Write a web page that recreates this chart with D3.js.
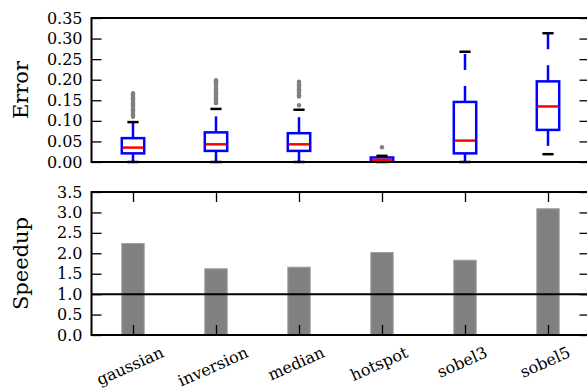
<!DOCTYPE html>
<html>
<head>
<meta charset="utf-8">
<style>
body { margin: 0; background: #fff; }
svg text { font-family: "DejaVu Serif", serif; fill: #000; }
</style>
<script src="https://cdn.jsdelivr.net/npm/d3@7"></script>
</head>
<body>
<div id="chart"></div>
<script>
// benchmarks
var names = ["gaussian", "inversion", "median", "hotspot", "sobel3", "sobel5"];

// error boxplot stats
var whiskLo = [0.000, 0.000, 0.000, 0.000, 0.000, 0.019];
var q1      = [0.021, 0.027, 0.027, 0.003, 0.021, 0.078];
var med     = [0.035, 0.043, 0.043, 0.005, 0.052, 0.135];
var q3      = [0.058, 0.072, 0.070, 0.011, 0.146, 0.196];
var whiskHi = [0.097, 0.129, 0.127, 0.015, 0.268, 0.313];

// outliers per benchmark
var fliers = [
  [0.110, 0.113, 0.116, 0.119, 0.122, 0.125, 0.128, 0.131, 0.134, 0.137, 0.140, 0.143, 0.146, 0.149, 0.152, 0.155, 0.158, 0.161, 0.164, 0.167],
  [0.143, 0.146, 0.149, 0.152, 0.155, 0.158, 0.161, 0.164, 0.167, 0.170, 0.173, 0.176, 0.179, 0.182, 0.185, 0.188, 0.191, 0.194, 0.197, 0.199],
  [0.138, 0.159, 0.162, 0.165, 0.168, 0.171, 0.174, 0.177, 0.180, 0.183, 0.186, 0.189, 0.192, 0.195],
  [0.036],
  [],
  []
];

// speedup bars
var speedup = [2.24, 1.62, 1.66, 2.02, 1.83, 3.09];

var errTicks = [0, 0.05, 0.10, 0.15, 0.20, 0.25, 0.30, 0.35];
var spdTicks = [0, 0.5, 1.0, 1.5, 2.0, 2.5, 3.0, 3.5];

var W = 587, H = 392;
var left = 91.5, right = 589.5;

var svg = d3.select("#chart").append("svg")
  .attr("width", W).attr("height", H);

var x = d3.scalePoint().domain(names).range([left, right]).padding(0.5);
var step = x.step();

var yE = d3.scaleLinear().domain([0, 0.35]).range([162, 18]);
var yS = d3.scaleLinear().domain([0, 3.5]).range([335, 192]);

function yAxes(y, ticks, fmt) {
  svg.append("g")
    .attr("transform", "translate(" + left + ",0)")
    .call(d3.axisLeft(y).tickValues(ticks).tickFormat(d3.format(fmt)).tickSizeInner(-10).tickSizeOuter(0).tickPadding(9))
    .call(function(g) {
      g.select(".domain").remove();
      g.selectAll("line").attr("stroke-width", 1.3);
      g.selectAll("text").style("font-size", "16px").attr("fill", "#000");
    });
  svg.append("g")
    .attr("transform", "translate(" + right + ",0)")
    .call(d3.axisRight(y).tickValues(ticks).tickFormat("").tickSizeInner(-10).tickSizeOuter(0))
    .call(function(g) {
      g.select(".domain").remove();
      g.selectAll("line").attr("stroke-width", 1.3);
    });
}

// ---- top: error boxplots
yAxes(yE, errTicks, ".2f");

var bw = step * 0.27, cw = bw * 0.5;
var boxes = svg.append("g").selectAll("g").data(names).enter().append("g");

boxes.each(function(n, i) {
  var g = d3.select(this), cx = x(n);
  // whiskers, dashed
  g.append("line").attr("x1", cx).attr("x2", cx)
    .attr("y1", yE(q3[i])).attr("y2", yE(whiskHi[i]))
    .attr("stroke", "#0000ff").attr("stroke-width", 2.5).attr("stroke-dasharray", "16,16");
  g.append("line").attr("x1", cx).attr("x2", cx)
    .attr("y1", yE(q1[i])).attr("y2", yE(whiskLo[i]))
    .attr("stroke", "#0000ff").attr("stroke-width", 2.5).attr("stroke-dasharray", "16,16");
  // box
  g.append("rect").attr("x", cx - bw / 2).attr("width", bw)
    .attr("y", yE(q3[i])).attr("height", yE(q1[i]) - yE(q3[i]))
    .attr("fill", "none").attr("stroke", "#0000ff").attr("stroke-width", 2.5);
  // caps
  [whiskLo[i], whiskHi[i]].forEach(function(v) {
    g.append("line").attr("x1", cx - cw / 2).attr("x2", cx + cw / 2)
      .attr("y1", yE(v)).attr("y2", yE(v))
      .attr("stroke", "#000").attr("stroke-width", 2.5);
  });
  // median
  g.append("line").attr("x1", cx - bw / 2 + 1).attr("x2", cx + bw / 2 - 1)
    .attr("y1", yE(med[i])).attr("y2", yE(med[i]))
    .attr("stroke", "#ff0000").attr("stroke-width", 2.5);
  // outliers
  g.selectAll("circle").data(fliers[i]).enter().append("circle")
    .attr("cx", cx).attr("cy", function(d) { return yE(d); })
    .attr("r", 2.2).attr("fill", "#808080");
});

svg.append("rect").attr("x", left).attr("y", 18)
  .attr("width", right - left).attr("height", 144)
  .attr("fill", "none").attr("stroke", "#000").attr("stroke-width", 2);

svg.append("text")
  .attr("transform", "translate(28,90) rotate(-90)")
  .attr("text-anchor", "middle")
  .style("font-size", "21px")
  .text("Error");

// ---- bottom: speedup bars
yAxes(yS, spdTicks, ".1f");

svg.append("g").selectAll("rect").data(speedup).enter().append("rect")
  .attr("x", function(d, i) { return x(names[i]) - bw / 2; })
  .attr("width", bw)
  .attr("y", function(d) { return yS(d); })
  .attr("height", function(d) { return yS(0) - yS(d); })
  .attr("fill", "#808080").attr("stroke", "#a0a0a0").attr("stroke-width", 1);

svg.append("line").attr("x1", left).attr("x2", right)
  .attr("y1", yS(1)).attr("y2", yS(1))
  .attr("stroke", "#000").attr("stroke-width", 2);

svg.append("g").attr("transform", "translate(0,335)")
  .call(d3.axisBottom(x).tickSizeInner(-10).tickSizeOuter(0).tickFormat(""))
  .call(function(g) { g.select(".domain").remove(); g.selectAll("line").attr("stroke-width", 1.3); });
svg.append("g").attr("transform", "translate(0,192)")
  .call(d3.axisTop(x).tickSizeInner(-10).tickSizeOuter(0).tickFormat(""))
  .call(function(g) { g.select(".domain").remove(); g.selectAll("line").attr("stroke-width", 1.3); });

svg.append("rect").attr("x", left).attr("y", 192)
  .attr("width", right - left).attr("height", 143)
  .attr("fill", "none").attr("stroke", "#000").attr("stroke-width", 2);

// rotated category labels, bbox top just under the axis
var ang = 24, rad = ang * Math.PI / 180;
svg.append("g").selectAll("text").data(names).enter().append("text")
  .style("font-size", "16px")
  .attr("text-anchor", "middle")
  .attr("dy", "0.35em")
  .text(function(d) { return d; })
  .each(function(d) {
    var w = this.getComputedTextLength(), h = 16;
    var bh = w * Math.sin(rad) + h * Math.cos(rad);
    var cy = 344 + bh / 2;
    d3.select(this).attr("transform", "translate(" + (x(d) - 3) + "," + cy + ") rotate(" + (-ang) + ")");
  });

svg.append("text")
  .attr("transform", "translate(28,263.5) rotate(-90)")
  .attr("text-anchor", "middle")
  .style("font-size", "21px")
  .text("Speedup");
</script>
</body>
</html>
